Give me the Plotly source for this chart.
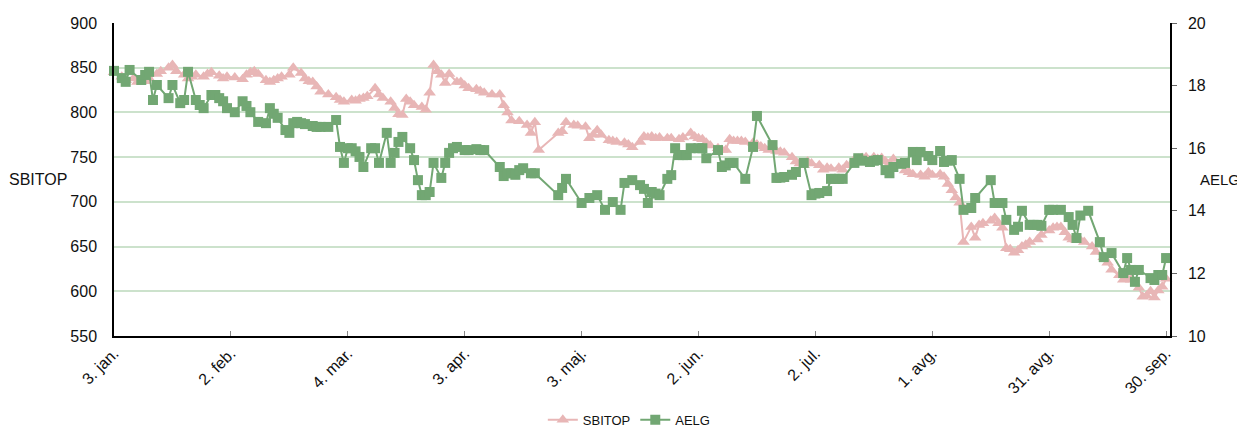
import plotly.graph_objects as go

YEAR = "2011"

sbitop_dates = ["01-03","01-05","01-06","01-08","01-09","01-11","01-12","01-14","01-15","01-17","01-18","01-19","01-21","01-22","01-23","01-24","01-26","01-27","01-28","01-30","01-31",
"02-01","02-03","02-05","02-06","02-07","02-08","02-09","02-11","02-12","02-13","02-14","02-15","02-17","02-18","02-20","02-21","02-22","02-23","02-24","02-25","02-27",
"03-01","03-02","03-03","03-05","03-06","03-07","03-08","03-09","03-11","03-12","03-13","03-15","03-16","03-17","03-18","03-19","03-20","03-21","03-23","03-24","03-25","03-26","03-27","03-28","03-29","03-30",
"04-01","04-02","04-03","04-04","04-06","04-07","04-08","04-10","04-12","04-13","04-14","04-15","04-17","04-19","04-20","04-21","04-22","04-27","04-28","04-29",
"05-01","05-02","05-04","05-05","05-06","05-07","05-08","05-10","05-11","05-12","05-14","05-15","05-16","05-18","05-19","05-20","05-21","05-22","05-23","05-25","05-26","05-28","05-29","05-31",
"06-01","06-02","06-03","06-04","06-05","06-07","06-08","06-09","06-10","06-11","06-12","06-13","06-14","06-16","06-17","06-18","06-19","06-20","06-22","06-23","06-24","06-26","06-27","06-28","06-29","06-30",
"07-01","07-03","07-04","07-05","07-06","07-08","07-09","07-10","07-12","07-13","07-14","07-15","07-17","07-18","07-19","07-20","07-21","07-22","07-24","07-25","07-26","07-27","07-29","07-30","07-31",
"08-01","08-03","08-04","08-05","08-06","08-07","08-08","08-09","08-11","08-12","08-13","08-14","08-16","08-17","08-18","08-19","08-20","08-21","08-22","08-23","08-24","08-25","08-26","08-28","08-29","08-31",
"09-01","09-02","09-03","09-04","09-05","09-06","09-07","09-08","09-09","09-11","09-12","09-14","09-15","09-16","09-18","09-19","09-20","09-21","09-23","09-24","09-25","09-26","09-27","09-28","09-29","09-30"]
sbitop_values = [845,840,836,838,834,835,838,843,846,850,853,846,842,838,840,842,840,843,845,841,838,
840,839,837,842,845,846,843,836,834,836,838,840,842,850,844,838,835,834,829,823,820,
817,814,812,814,813,815,816,818,827,820,816,812,805,798,797,815,812,808,806,803,822,853,846,842,833,843,
834,834,830,827,826,824,822,820,820,808,800,791,790,786,777,789,758,777,779,789,
786,785,784,771,775,780,775,769,768,767,766,764,761,767,773,772,773,771,772,771,771,770,772,777,
773,771,770,766,763,760,758,758,770,768,768,768,767,766,764,762,760,758,757,756,755,750,745,743,741,745,
743,741,736,738,737,738,736,741,747,748,749,750,750,748,749,745,743,748,744,735,733,731,730,728,733,
730,731,728,720,713,705,699,655,672,660,674,676,679,682,676,671,648,647,643,646,650,652,655,658,663,668,
671,672,672,666,660,658,657,657,655,650,644,638,632,624,618,613,615,613,604,594,595,600,593,601,605,614]

aelg_dates = ["01-03","01-05","01-06","01-07","01-10","01-11","01-12","01-13","01-14","01-17","01-18","01-20","01-21","01-22","01-24","01-25","01-26","01-28","01-29","01-30","01-31",
"02-01","02-03","02-05","02-06","02-07","02-09","02-11","02-12","02-13","02-14","02-16","02-17","02-18","02-19","02-20","02-21","02-23","02-24","02-25","02-27",
"03-01","03-02","03-03","03-04","03-05","03-06","03-07","03-08","03-10","03-11","03-12","03-14","03-15","03-16","03-17","03-18","03-20","03-21","03-22","03-23","03-24","03-25","03-26","03-28","03-29","03-30","03-31",
"04-01","04-03","04-04","04-06","04-07","04-08","04-12","04-13","04-14","04-15","04-16","04-17","04-18","04-20","04-21","04-27","04-28","04-29",
"05-03","05-05","05-07","05-09","05-11","05-13","05-14","05-16","05-18","05-19","05-20","05-21","05-22","05-23","05-25","05-26","05-27","05-28","05-29","05-30","05-31",
"06-02","06-03","06-04","06-07","06-08","06-09","06-10","06-11","06-14","06-16","06-17","06-21","06-22","06-23","06-24","06-26","06-27","06-29",
"07-01","07-02","07-03","07-05","07-06","07-07","07-08","07-09","07-12","07-13","07-14","07-16","07-17","07-18","07-20","07-21","07-22","07-24","07-25","07-27","07-28","07-29","07-31",
"08-01","08-03","08-04","08-05","08-06","08-08","08-09","08-11","08-12","08-16","08-17","08-18","08-19","08-20","08-22","08-23","08-24","08-26","08-27","08-28","08-29","08-31",
"09-01","09-03","09-05","09-06","09-07","09-08","09-10","09-13","09-14","09-16","09-19","09-20","09-21","09-22","09-23","09-26","09-27","09-28","09-29","09-30"]
aelg_values = [18.47,18.24,18.12,18.5,18.18,18.34,18.44,17.54,18.02,17.6,18.02,17.44,17.54,18.44,17.54,17.38,17.28,17.7,17.7,17.6,17.5,
17.28,17.15,17.5,17.35,17.15,16.84,16.8,17.28,17.1,16.97,16.58,16.49,16.8,16.84,16.8,16.77,16.71,16.68,16.68,16.68,
16.9,16.04,15.53,16.0,16.0,15.9,15.72,15.4,16.0,16.0,15.53,16.49,15.53,15.85,16.2,16.36,16.0,15.62,14.98,14.5,14.5,14.6,15.53,15.05,15.53,15.85,16.0,
16.04,15.94,15.94,15.97,15.94,15.94,15.4,15.11,15.2,15.2,15.15,15.3,15.36,15.2,15.2,14.5,14.73,15.02,
14.25,14.41,14.5,14.03,14.28,14.03,14.89,14.98,14.82,14.7,14.25,14.6,14.55,14.5,15.02,15.14,16.0,15.78,15.78,15.78,16.0,
16.0,16.0,15.68,15.94,15.4,15.45,15.53,15.53,15.02,16.04,17.03,16.1,15.05,15.06,15.08,15.15,15.24,15.53,
14.5,14.55,14.57,14.63,15.02,15.02,15.02,15.02,15.53,15.68,15.6,15.56,15.6,15.62,15.3,15.2,15.4,15.5,15.53,15.88,15.62,15.88,15.75,
15.62,15.91,15.56,15.6,15.62,15.02,14.03,14.09,14.41,14.98,14.25,14.25,14.25,13.71,13.39,13.49,14.0,13.55,13.55,13.55,13.52,14.03,
14.03,14.03,13.8,13.55,13.13,13.85,14.0,13.0,12.52,12.65,12.01,12.49,12.11,11.73,12.11,11.85,11.79,11.95,11.95,12.49]

tick_dates = ["01-03","02-02","03-04","04-03","05-03","06-02","07-02","08-01","08-31","09-30"]
tick_labels = ["3. jan.","2. feb.","4. mar.","3. apr.","3. maj.","2. jun.","2. jul.","1. avg.","31. avg.","30. sep."]

PINK = "#e8b6b6"
GREEN = "#72a773"
FONT = "Liberation Sans, Arial, sans-serif"

fig = go.Figure()
fig.add_trace(go.Scatter(
    x=[f"{YEAR}-{d}" for d in sbitop_dates], y=sbitop_values, name="SBITOP",
    mode="lines+markers", line=dict(color=PINK, width=2),
    marker=dict(symbol="triangle-up", size=11, color=PINK),
    cliponaxis=False, yaxis="y"))
fig.add_trace(go.Scatter(
    x=[f"{YEAR}-{d}" for d in aelg_dates], y=aelg_values, name="AELG",
    mode="lines+markers", line=dict(color=GREEN, width=2),
    marker=dict(symbol="square", size=10, color=GREEN),
    cliponaxis=False, yaxis="y2"))

# page body adds an 8px offset, so the figure is sized 8px smaller
fig.update_layout(
    width=1237, height=420,
    margin=dict(l=106, r=75, t=15, b=92, autoexpand=False),
    paper_bgcolor="white", plot_bgcolor="white",
    font=dict(family=FONT, size=16, color="#111111"),
    showlegend=True,
    legend=dict(orientation="h", x=0.488, xanchor="center", y=-0.268, yanchor="middle",
                font=dict(size=13, family=FONT), itemwidth=30),
    xaxis=dict(type="date", range=[f"{YEAR}-01-03", f"{YEAR}-10-01"],
               tickvals=[f"{YEAR}-{d}" for d in tick_dates], ticktext=tick_labels,
               tickangle=-45, ticks="inside", ticklen=5, tickcolor="#888888",
               showline=True, linecolor="black", linewidth=1.5, showgrid=False,
               zeroline=False, tickfont=dict(size=16), automargin=False),
    yaxis=dict(range=[550, 900], dtick=50, tick0=550, showline=True, linecolor="black",
               linewidth=1.5, showgrid=True, gridcolor="#cce2cc", gridwidth=1.5,
               zeroline=False, ticks="", ticklabelstandoff=12, tickfont=dict(size=16),
               automargin=False),
    yaxis2=dict(range=[10, 20], dtick=2, tick0=10, overlaying="y", side="right",
                showline=True, linecolor="black", linewidth=1.5, showgrid=False,
                zeroline=False, ticks="outside", ticklen=5, tickcolor="#666666",
                ticklabelstandoff=8, tickfont=dict(size=16), automargin=False),
    annotations=[
        dict(text="SBITOP", xref="paper", yref="paper", x=-0.101, y=0.5, xanchor="left",
             yanchor="middle", showarrow=False, font=dict(size=16, family=FONT)),
        dict(text="AELG", xref="paper", yref="paper", x=1.068, y=0.5, xanchor="right",
             yanchor="middle", showarrow=False, font=dict(size=15, family=FONT)),
    ],
)

fig.write_html("out.html")
